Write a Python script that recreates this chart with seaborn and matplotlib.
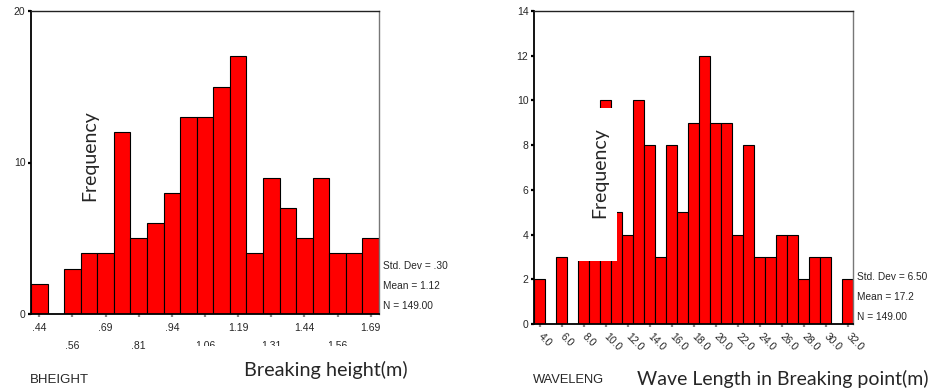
import numpy as np
import pandas as pd
import matplotlib
matplotlib.use("Agg")
import matplotlib.pyplot as plt
from matplotlib.patches import Rectangle
import seaborn as sns

# Breaking height: 21 classes of 0.0625 m, the first centred on .44
bheight_first_center = 0.44
bheight_bin_width = 0.0625
bheight_counts = [2, 0, 3, 4, 4, 12, 5, 6, 8, 13, 13, 15, 17, 4, 9, 7, 5, 9, 4, 4, 5]
bheight_tick_labels = [".44", ".56", ".69", ".81", ".94", "1.06", "1.19",
                       "1.31", "1.44", "1.56", "1.69"]
bheight_yticks = [0, 10, 20]
bheight_stats = ["Std. Dev = .30", "Mean = 1.12", "N = 149.00"]

# Wave length: 1 m classes centred on 4 ... 32
waveleng_centers = list(range(4, 33))
waveleng_counts = [2, 0, 3, 0, 8, 8, 10, 5, 4, 10, 8, 3, 8, 5, 9, 12, 9, 9, 4, 8,
                   3, 3, 4, 4, 2, 3, 3, 0, 2]
waveleng_tick_values = [4, 6, 8, 10, 12, 14, 16, 18, 20, 22, 24, 26, 28, 30, 32]
waveleng_tick_labels = ["4.0", "6.0", "8.0", "10.0", "12.0", "14.0", "16.0", "18.0",
                        "20.0", "22.0", "24.0", "26.0", "28.0", "30.0", "32.0"]
waveleng_yticks = [0, 2, 4, 6, 8, 10, 12, 14]
waveleng_stats = ["Std. Dev = 6.50", "Mean = 17.2", "N = 149.00"]

sns.set_style("white")
plt.rcParams["font.family"] = ["Liberation Sans", "DejaVu Sans"]
TITLE_FONT = ["Lato", "DejaVu Sans"]

W, H = 931, 392
fig = plt.figure(figsize=(W / 100, H / 100), dpi=100)


def fx(x):
    return x / W


def fy(y):
    return 1 - y / H


def add_axes(left, top, right, bottom):
    return fig.add_axes([fx(left), fy(bottom), fx(right - left), (bottom - top) / H])


def style_axes(ax):
    for side in ("left", "bottom"):
        ax.spines[side].set_color("black")
        ax.spines[side].set_linewidth(1.3)
    ax.spines["top"].set_color("#222222")
    ax.spines["top"].set_linewidth(1.0)
    ax.spines["right"].set_color("#777777")
    ax.spines["right"].set_linewidth(1.0)
    ax.tick_params(axis="y", direction="out", length=2, width=1.6, color="black",
                   pad=2, labelsize=7.5, left=True)
    ax.tick_params(axis="x", direction="out", length=2, width=1.6, color="#888888",
                   labelsize=7.5, bottom=True)
    ax.set_xlabel("")
    ax.set_ylabel("")


# ---- Breaking height -------------------------------------------------------
ax1 = add_axes(31, 11, 379, 314)
n1 = len(bheight_counts)
edges1 = bheight_first_center - bheight_bin_width / 2 + bheight_bin_width * np.arange(n1 + 1)
centers1 = bheight_first_center + bheight_bin_width * np.arange(n1)
df1 = pd.DataFrame({"BHEIGHT": centers1, "count": bheight_counts})
sns.histplot(data=df1, x="BHEIGHT", weights="count", bins=edges1.tolist(), ax=ax1,
             color="#ff0000", edgecolor="black", linewidth=0.8, alpha=1)
ax1.set_xlim(edges1[0], edges1[-1])
ax1.set_ylim(0, 20)
ax1.set_yticks(bheight_yticks)
ax1.set_xticks(centers1[::2])
ax1.set_xticklabels(bheight_tick_labels)
style_axes(ax1)
for i, tick in enumerate(ax1.xaxis.get_major_ticks()):
    tick.set_pad(4.5 if i % 2 == 0 else 17.5)

for k, line in enumerate(bheight_stats):
    fig.text(fx(383), fy(266 + 20 * k), line, fontsize=7.3, ha="left", va="center")

# ---- Wave length ----------------------------------------------------------
ax2 = add_axes(534, 11, 853, 324)
edges2 = np.arange(waveleng_centers[0] - 0.5, waveleng_centers[-1] + 1.0, 1.0)
df2 = pd.DataFrame({"WAVELENG": waveleng_centers, "count": waveleng_counts})
sns.histplot(data=df2, x="WAVELENG", weights="count", bins=edges2.tolist(), ax=ax2,
             color="#ff0000", edgecolor="black", linewidth=0.8, alpha=1)
ax2.set_xlim(edges2[0], edges2[-1])
ax2.set_ylim(0, 14)
ax2.set_yticks(waveleng_yticks)
ax2.set_xticks(waveleng_tick_values)
ax2.set_xticklabels(waveleng_tick_labels)
style_axes(ax2)
ax2.tick_params(axis="x", pad=6, labelsize=7.5)
for lab in ax2.get_xticklabels():
    lab.set_rotation(-45)
    lab.set_rotation_mode("anchor")
    lab.set_ha("left")
    lab.set_va("center")

for k, line in enumerate(waveleng_stats):
    fig.text(fx(857), fy(277 + 20 * k), line, fontsize=7.3, ha="left", va="center")

# ---- text boxes laid over the charts ---------------------------------------
# "Frequency" box with a white background
fig.add_artist(Rectangle((fx(571), fy(261)), fx(617.3 - 571), (261 - 108.3) / H,
                         transform=fig.transFigure, facecolor="white",
                         edgecolor="none", zorder=5))
fig.text(fx(90), fy(156), "Frequency", rotation=90, fontsize=14, family=TITLE_FONT,
         ha="center", va="center", zorder=6)
fig.text(fx(600), fy(173), "Frequency", rotation=90, fontsize=14, family=TITLE_FONT,
         ha="center", va="center", zorder=6)

# axis title box
fig.add_artist(Rectangle((fx(180), 0), fx(240), (H - 346) / H,
                         transform=fig.transFigure, facecolor="white",
                         edgecolor="none", zorder=5))
fig.text(fx(244), fy(370), "Breaking height(m)", fontsize=14.3, family=TITLE_FONT,
         ha="left", va="center", zorder=6)
fig.text(fx(637), fy(379), "Wave Length in Breaking point(m)", fontsize=14.0,
         family=TITLE_FONT, ha="left", va="center", zorder=6)

fig.text(fx(30), fy(380), "BHEIGHT", fontsize=9.5, ha="left", va="center")
fig.text(fx(533), fy(380), "WAVELENG", fontsize=9.3, ha="left", va="center")

fig.savefig("out.png", dpi=100, facecolor="white")
